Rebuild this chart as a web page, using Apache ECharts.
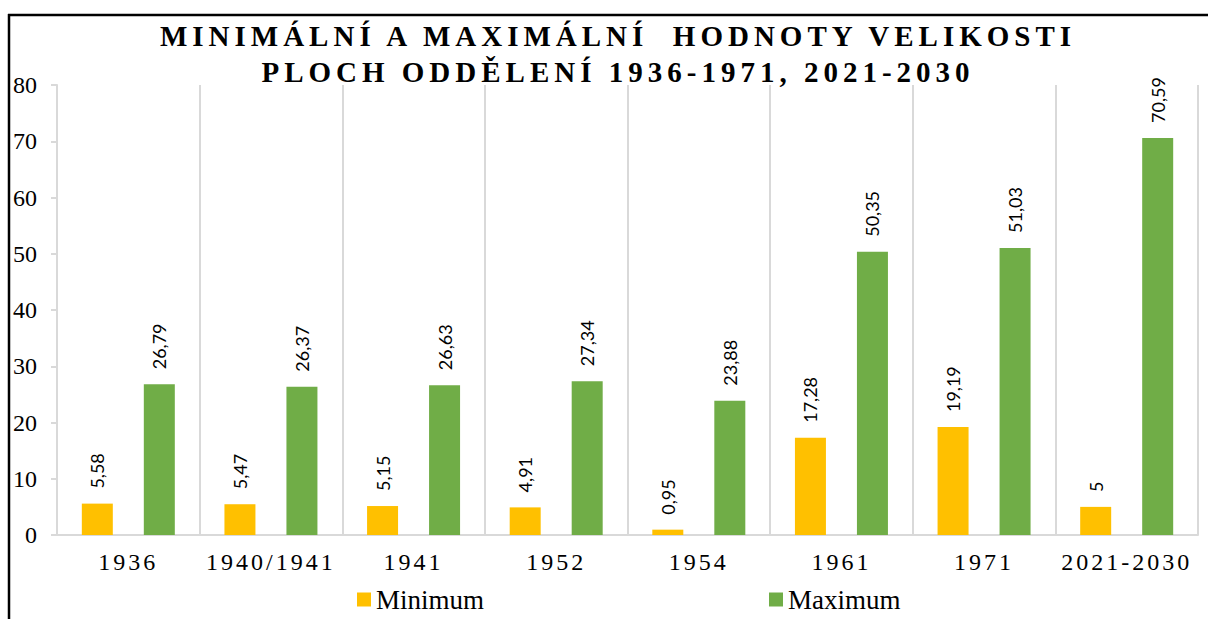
<!DOCTYPE html>
<html>
<head>
<meta charset="utf-8">
<title>Minimální a maximální hodnoty velikosti ploch oddělení</title>
<script src="https://cdn.jsdelivr.net/npm/echarts@6/dist/echarts.min.js"></script>
<style>
  html, body { margin: 0; padding: 0; background: #fff; }
  #chart { width: 1208px; height: 619px; }
  /* roztažené písmo jako v originále (popisky kategorií a nadpis) */
  #chart text[style*="Tinos"] { letter-spacing: 3px; }
  #chart text[style*="bold"] { letter-spacing: 5px; }
</style>
</head>
<body>
<div id="chart"></div>
<script>
// data
const categories = ['1936', '1940/1941', '1941', '1952', '1954', '1961', '1971', '2021-2030']
const minimum = [5.58, 5.47, 5.15, 4.91, 0.95, 17.28, 19.19, 5]
const maximum = [26.79, 26.37, 26.63, 27.34, 23.88, 50.35, 51.03, 70.59]
const seriesNames = ['Minimum', 'Maximum']
const titleLines = ['MINIMÁLNÍ A MAXIMÁLNÍ  HODNOTY VELIKOSTI', 'PLOCH ODDĚLENÍ 1936-1971, 2021-2030']

const serifFont = "'Times New Roman', serif"
const spacedSerif = "'Times New Roman', Tinos, serif"
const gridColor = '#D9D9D9'

const chart = echarts.init(document.getElementById('chart'), null, { renderer: 'svg' })

// popisek nad sloupcem, otočený o 90°
const barLabel = {
  show: true,
  position: 'top',
  rotate: 90,
  align: 'left',
  verticalAlign: 'middle',
  distance: 15,
  fontFamily: 'Lato',
  fontSize: 18,
  color: '#000',
  formatter: (p) => String(p.value).replace('.', ',')
}

const option = {
  animation: false,
  legend: {
    data: seriesNames,
    left: 357,
    top: 586,
    padding: 0,
    itemWidth: 14,
    itemHeight: 14,
    itemGap: 285,
    icon: 'rect',
    textStyle: {
      fontFamily: serifFont,
      fontSize: 27,
      color: '#000'
    }
  },
  grid: {
    left: 57,
    right: 10,
    top: 85,
    bottom: 84
  },
  xAxis: {
    type: 'category',
    data: categories,
    axisLine: { lineStyle: { color: gridColor, width: 2 } },
    axisTick: { show: false },
    splitLine: { show: true, lineStyle: { color: gridColor, width: 2 } },
    axisLabel: {
      fontFamily: spacedSerif,
      fontSize: 24,
      color: '#000',
      margin: 15
    }
  },
  yAxis: {
    type: 'value',
    min: 0,
    max: 80,
    interval: 10,
    axisLine: { show: true, lineStyle: { color: gridColor, width: 2 } },
    axisTick: { show: true, length: 6, lineStyle: { color: gridColor, width: 2 } },
    splitLine: { show: false },
    axisLabel: {
      fontFamily: serifFont,
      fontSize: 24,
      color: '#000',
      margin: 20
    }
  },
  series: [
    {
      name: seriesNames[0],
      type: 'bar',
      data: minimum,
      barWidth: 31,
      barGap: '100%',
      itemStyle: { color: '#FFC000' },
      label: barLabel
    },
    {
      name: seriesNames[1],
      type: 'bar',
      data: maximum,
      barWidth: 31,
      barGap: '100%',
      itemStyle: { color: '#70AD47' },
      label: barLabel
    }
  ],
  graphic: [
    // nadpis (o kousek vpravo od středu, jako v originále)
    {
      type: 'text',
      x: 618,
      y: 18,
      style: {
        text: titleLines.join('\n'),
        textAlign: 'center',
        textVerticalAlign: 'top',
        fontFamily: spacedSerif,
        fontWeight: 'bold',
        fontSize: 29,
        lineHeight: 36,
        fill: '#000'
      }
    },
    // černý rámeček nahoře a vlevo
    { type: 'line', shape: { x1: 8, y1: 15, x2: 1208, y2: 15 }, style: { stroke: '#000', lineWidth: 2.5 } },
    { type: 'line', shape: { x1: 9, y1: 14, x2: 9, y2: 619 }, style: { stroke: '#000', lineWidth: 2.5 } }
  ]
}

chart.setOption(option)
window.addEventListener('resize', () => chart.resize())
</script>
</body>
</html>
